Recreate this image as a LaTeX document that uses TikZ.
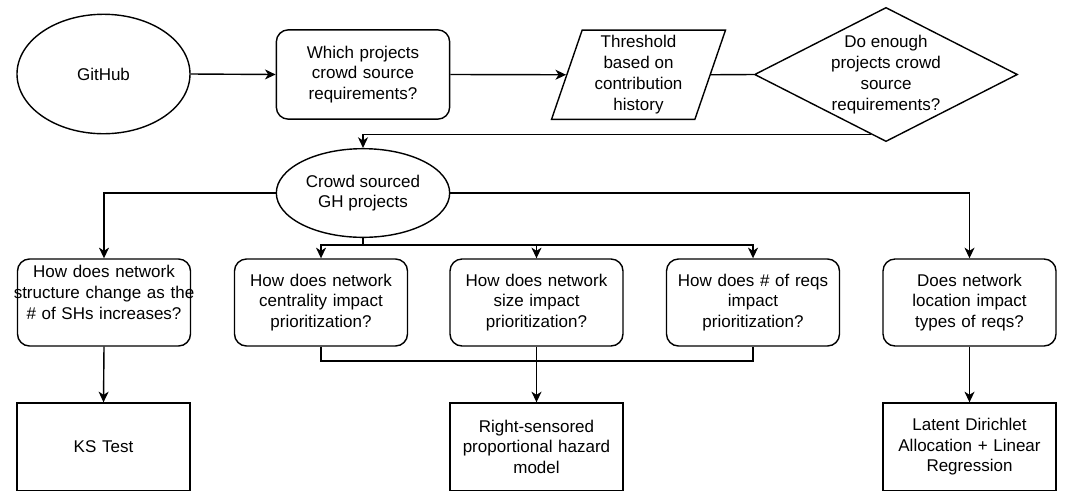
\documentclass[tikz,border=0pt]{standalone}
\usepackage{fontspec}
\setmainfont{Liberation Sans}
\usetikzlibrary{shapes.geometric,arrows.meta,calc}

\tikzset{
  wire/.style={line width=1.05pt},
  qbox/.style={draw, wire, rounded corners=9pt, minimum width=129.75pt, minimum height=65.25pt, text width=124pt, align=center, inner sep=0pt},
  mbox/.style={draw, wire, minimum width=130pt, minimum height=65.6pt, text width=124pt, align=center, inner sep=0pt},
  oval/.style={draw, wire, ellipse, inner sep=0pt, align=center}
}

\begin{document}
\begin{tikzpicture}[x=0.75pt, y=-0.75pt, >={Stealth[length=8pt,width=7.5pt,inset=2.4pt]}, font=\fontsize{12.75}{15.6}\selectfont]
\useasboundingbox (0,0) rectangle (1066,501);
% top row:
\node[oval, minimum width=129.75pt, minimum height=89.6pt] (gh) at (103.5,74) {GitHub};
\node[qbox, minimum width=130pt, minimum height=67pt] (which) at (363,74.5) {Which projects\\crowd source\\requirements?};
\node[draw, wire, trapezium, trapezium left angle=68.6, trapezium right angle=111.4, trapezium stretches body, minimum width=130.5pt, minimum height=67pt, inner sep=0pt, align=center] (thr) at (638.5,74.75) {Threshold\\based on\\contribution\\history};
\node[draw, wire, diamond, shape aspect=1.96, inner sep=0pt, minimum width=196pt, minimum height=100pt, align=center] (enough) at (886,74.5) {Do enough\\projects crowd\\source\\requirements?};
\node[oval, minimum width=130pt, minimum height=66.5pt] (crowd) at (363,193) {Crowd sourced\\GH projects};
% questions:
\node[qbox] (qstruct) at (104,302.5) {How does network\\\makebox[0pt]{structure change as the}\\\# of SHs increases?\\\mbox{}};
\node[qbox] (qcent) at (321,302.5) {How does network\\centrality impact\\prioritization?};
\node[qbox] (qsize) at (536.5,302.5) {How does network\\size impact\\prioritization?};
\node[qbox] (qreqs) at (753,302.5) {How does \# of reqs\\impact\\prioritization?};
\node[qbox] (qloc) at (969.5,302.5) {Does network\\location impact\\types of reqs?};
% methods:
\node[mbox] (ks) at (103.5,446.75) {KS Test};
\node[mbox] (hazard) at (536.5,446.75) {Right-sensored\\proportional hazard\\model};
\node[mbox] (lda) at (969.5,446.75) {Latent Dirichlet\\Allocation + Linear\\Regression};
% connectors:
\draw[->, wire] (gh.east) -- (which.west);
\draw[->, wire] (which.east) -- (thr.west);
\draw[wire] (thr.east) -- (enough.west);
\coordinate (back) at ($(enough.west)!0.889!(enough.south)$);
\draw[->, wire] (back) -| (crowd.north);
\draw[->, wire] (crowd.west) -| (qstruct.north);
\draw[->, wire] (crowd.east) -| (qloc.north);
\coordinate (fork) at (363,245);
\draw[wire] (crowd.south) -- (fork);
\draw[->, wire] (fork) -| (qcent.north);
\draw[->, wire] (fork) -| (qreqs.north);
\draw[->, wire] (fork -| qsize.north) -- (qsize.north);
\coordinate (join) at (536.5,361);
\draw[wire] (qcent.south) |- (join) -| (qreqs.south);
\draw[->, wire] (qsize.south) -- (hazard.north);
\draw[->, wire] (qstruct.south) -- (ks.north);
\draw[->, wire] (qloc.south) -- (lda.north);
\end{tikzpicture}
\end{document}
